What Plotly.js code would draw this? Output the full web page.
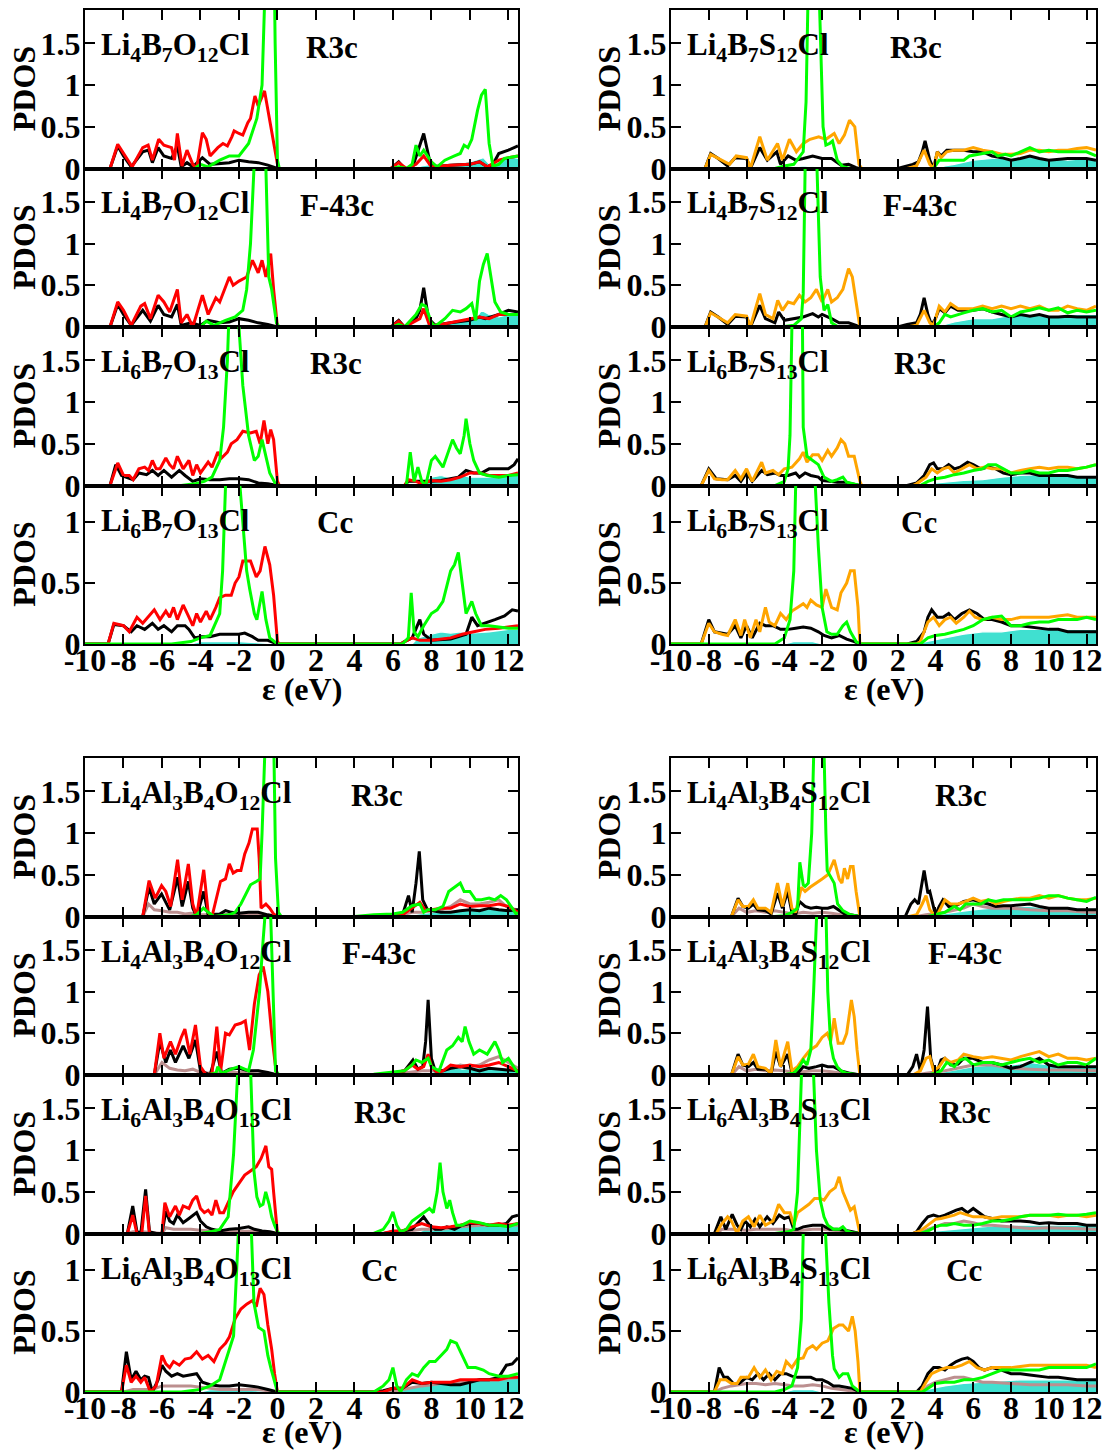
<!DOCTYPE html>
<html><head><meta charset="utf-8">
<script src="https://cdn.plot.ly/plotly-3.0.1.min.js"></script>
<style>html,body{margin:0;padding:0;background:#fff;}</style>
</head><body><div id="chart" style="width:1109px;height:1452px;"></div>
<script>
// ---------------- DATA (energy eV, PDOS) ----------------
const formulas = [
 'Li<sub>4</sub>B<sub>7</sub>O<sub>12</sub>Cl','Li<sub>4</sub>B<sub>7</sub>O<sub>12</sub>Cl','Li<sub>6</sub>B<sub>7</sub>O<sub>13</sub>Cl','Li<sub>6</sub>B<sub>7</sub>O<sub>13</sub>Cl',
 'Li<sub>4</sub>B<sub>7</sub>S<sub>12</sub>Cl','Li<sub>4</sub>B<sub>7</sub>S<sub>12</sub>Cl','Li<sub>6</sub>B<sub>7</sub>S<sub>13</sub>Cl','Li<sub>6</sub>B<sub>7</sub>S<sub>13</sub>Cl',
 'Li<sub>4</sub>Al<sub>3</sub>B<sub>4</sub>O<sub>12</sub>Cl','Li<sub>4</sub>Al<sub>3</sub>B<sub>4</sub>O<sub>12</sub>Cl','Li<sub>6</sub>Al<sub>3</sub>B<sub>4</sub>O<sub>13</sub>Cl','Li<sub>6</sub>Al<sub>3</sub>B<sub>4</sub>O<sub>13</sub>Cl',
 'Li<sub>4</sub>Al<sub>3</sub>B<sub>4</sub>S<sub>12</sub>Cl','Li<sub>4</sub>Al<sub>3</sub>B<sub>4</sub>S<sub>12</sub>Cl','Li<sub>6</sub>Al<sub>3</sub>B<sub>4</sub>S<sub>13</sub>Cl','Li<sub>6</sub>Al<sub>3</sub>B<sub>4</sub>S<sub>13</sub>Cl'];
const spaceGroups = ['R3c','F-43c','R3c','Cc','R3c','F-43c','R3c','Cc','R3c','F-43c','R3c','Cc','R3c','F-43c','R3c','Cc'];
const anions = ['O','O','O','O','S','S','S','S','O','O','O','O','S','S','S','S'];
const xTickVals = [-10,-8,-6,-4,-2,0,2,4,6,8,10,12];
const xTickText = ['-10','-8','-6','-4','-2','0','2','4','6','8','10','12'];
const xTitle = 'ε (eV)';
const yTitle = 'PDOS';

// Panel 1: Li4B7O12Cl R3c
const p1Li=[[-10,0],[-3,0],[-2,0.02],[-1,0.02],[0,0],[7,0],[7.5,0.03],[8,0.05],[9,0.06],[10,0.08],[10.7,0.13],[11.1,0.03],[11.5,0.08],[12,0.15],[12.5,0.12]];
const p1B=[[-10,0],[-8.7,0],[-8.3,0.27],[-8.0,0.15],[-7.6,0.02],[-7.0,0.2],[-6.7,0.22],[-6.5,0.07],[-6.2,0.25],[-5.9,0.15],[-5.5,0.12],[-5.2,0.27],[-5.0,0.02],[-4.7,0.07],[-4.4,0.02],[-3.9,0.13],[-3.5,0.05],[-3.0,0.06],[-2.5,0.07],[-2.0,0.1],[-1.5,0.08],[-1.0,0.07],[-0.5,0.04],[0,0],[5.9,0],[6.3,0.08],[6.6,0],[7.0,0],[7.3,0.2],[7.6,0.42],[7.9,0.1],[8.2,0.02],[9,0.04],[10,0.05],[10.5,0.08],[10.9,0.02],[11.2,0.05],[11.5,0.18],[12,0.22],[12.5,0.27]];
const p1X=[[-10,0],[-8.7,0],[-8.3,0.29],[-7.9,0.15],[-7.55,0.02],[-7.0,0.25],[-6.72,0.28],[-6.5,0.1],[-6.17,0.35],[-5.9,0.28],[-5.5,0.25],[-5.35,0.1],[-5.2,0.42],[-4.96,0.03],[-4.7,0.22],[-4.4,0.05],[-4.2,0],[-3.9,0.43],[-3.7,0.35],[-3.5,0.15],[-3.1,0.25],[-2.83,0.3],[-2.6,0.27],[-2.37,0.38],[-2.25,0.45],[-2.0,0.42],[-1.8,0.4],[-1.54,0.55],[-1.4,0.6],[-1.17,0.87],[-1.0,0.75],[-0.67,0.93],[-0.5,0.7],[-0.19,0.3],[0.04,0],[5.9,0],[6.3,0.07],[6.7,0],[7.2,0.05],[7.6,0.15],[8.0,0.02],[9,0.04],[10,0.05],[10.5,0.08],[10.9,0.02],[11.5,0.1],[12,0.13],[12.5,0.15]];
const p1Cl=[[-10,0],[-4.3,0],[-4.0,0.05],[-3.6,0.02],[-3.0,0.1],[-2.5,0.15],[-2.0,0.15],[-1.5,0.3],[-1.07,0.6],[-0.8,1.0],[-0.6,2.5],[-0.4,3.5],[-0.2,3],[-0.12,1.5],[0,0.1],[0.1,0],[6.0,0],[6.3,0.02],[6.7,0],[7.0,0.05],[7.2,0.28],[7.4,0.15],[7.6,0.22],[8.0,0.08],[8.3,0.02],[8.7,0.1],[9.2,0.15],[9.5,0.18],[9.7,0.28],[9.9,0.25],[10.1,0.35],[10.4,0.7],[10.6,0.88],[10.8,0.95],[11.0,0.3],[11.2,0.03],[11.5,0.05],[11.8,0.12],[12.5,0.15]];

// Panel 2: Li4B7O12Cl F-43c
const p2Li=[[-10,0],[-3,0],[-2,0.02],[-1,0.02],[0,0],[7,0],[7.5,0.03],[8.5,0.05],[9.5,0.08],[10.3,0.1],[10.6,0.2],[11,0.15],[11.5,0.12],[12,0.15],[12.5,0.15]];
const p2B=[[-10,0],[-8.7,0],[-8.3,0.27],[-8.0,0.15],[-7.6,0.02],[-7.0,0.2],[-6.6,0.07],[-6.2,0.26],[-5.9,0.15],[-5.5,0.12],[-5.2,0.27],[-5.0,0.02],[-4.5,0.05],[-4.0,0.02],[-3.6,0.08],[-3.0,0.05],[-2.5,0.06],[-2.0,0.1],[-1.5,0.08],[-1.0,0.05],[-0.5,0.03],[0,0],[5.9,0],[6.3,0.08],[6.6,0],[7.2,0.1],[7.4,0.2],[7.6,0.47],[7.85,0.1],[8.2,0.02],[9,0.05],[10,0.08],[10.5,0.12],[10.8,0.1],[11.5,0.15],[12,0.2],[12.5,0.18]];
const p2X=[[-10,0],[-8.7,0],[-8.3,0.3],[-8.0,0.2],[-7.6,0.02],[-7.1,0.25],[-6.9,0.28],[-6.6,0.1],[-6.2,0.38],[-5.9,0.3],[-5.6,0.18],[-5.2,0.45],[-5.0,0.05],[-4.7,0.15],[-4.4,0],[-3.9,0.38],[-3.6,0.15],[-3.2,0.35],[-3.0,0.3],[-2.5,0.6],[-2.3,0.5],[-2.0,0.55],[-1.6,0.6],[-1.3,0.8],[-1.0,0.65],[-0.8,0.8],[-0.6,0.6],[-0.35,0.88],[-0.2,0.45],[0,0],[5.9,0],[6.3,0.07],[6.6,0],[7.4,0.1],[7.6,0.22],[7.9,0.02],[8.3,0.02],[9,0.05],[10,0.1],[10.5,0.12],[11,0.1],[11.5,0.15],[12.5,0.15]];
const p2Cl=[[-10,0],[-4.0,0],[-3.7,0.07],[-3.3,0.02],[-2.7,0.08],[-2.2,0.12],[-1.8,0.2],[-1.6,0.45],[-1.4,1.0],[-1.2,2.2],[-1.0,3],[-0.8,3],[-0.6,1.9],[-0.45,0.6],[-0.3,0.45],[-0.05,0.05],[0.1,0],[6.0,0],[6.3,0.03],[6.6,0],[7.2,0.15],[7.5,0.27],[7.7,0.25],[8.0,0.05],[8.2,0.01],[8.7,0.1],[9.1,0.2],[9.5,0.18],[9.8,0.22],[10.1,0.28],[10.3,0.08],[10.5,0.55],[10.7,0.75],[10.9,0.88],[11.1,0.6],[11.3,0.3],[11.6,0.18],[12,0.15],[12.5,0.15]];

// Panel 3: Li6B7O13Cl R3c
const p3Li=[[-10,0],[-3,0],[-2,0.02],[-1,0.02],[0,0],[7,0],[7.5,0.05],[8.0,0.1],[8.5,0.12],[9,0.09],[9.5,0.13],[10,0.1],[11,0.1],[12,0.12],[12.5,0.12]];
const p3B=[[-10,0],[-8.7,0],[-8.4,0.25],[-8.1,0.12],[-7.5,0.07],[-7.2,0.15],[-6.8,0.13],[-6.5,0.18],[-6.2,0.12],[-5.9,0.18],[-5.5,0.1],[-5.1,0.18],[-4.8,0.12],[-4.4,0.05],[-4.0,0.08],[-3.5,0.07],[-3.0,0.07],[-2.5,0.08],[-2.0,0.08],[-1.5,0.07],[-1.0,0.03],[-0.5,0.02],[0,0],[6.6,0],[6.8,0.05],[7.5,0.05],[8.0,0.05],[8.5,0.06],[9.0,0.08],[9.4,0.1],[9.8,0.18],[10.2,0.15],[10.6,0.15],[11,0.2],[11.5,0.2],[12,0.2],[12.3,0.25],[12.5,0.32]];
const p3X=[[-10,0],[-8.7,0],[-8.3,0.27],[-8.0,0.12],[-7.7,0.12],[-7.5,0.07],[-7.2,0.2],[-6.9,0.22],[-6.7,0.18],[-6.5,0.3],[-6.3,0.2],[-6.1,0.2],[-5.8,0.33],[-5.6,0.25],[-5.4,0.2],[-5.2,0.35],[-4.9,0.2],[-4.6,0.3],[-4.4,0.12],[-4.2,0.25],[-4.0,0.15],[-3.6,0.28],[-3.4,0.22],[-3.1,0.4],[-2.9,0.33],[-2.6,0.4],[-2.4,0.5],[-2.1,0.55],[-1.8,0.65],[-1.4,0.63],[-1.1,0.65],[-0.9,0.5],[-0.7,0.78],[-0.5,0.5],[-0.35,0.67],[-0.2,0.55],[0,0.05],[0.1,0],[6.6,0],[6.8,0.07],[7.2,0.05],[7.5,0.02],[8.0,0.06],[8.5,0.05],[9.0,0.07],[9.5,0.1],[10,0.15],[10.5,0.15],[11,0.12],[12,0.12],[12.5,0.15]];
const p3Cl=[[-10,0],[-5.0,0],[-4.3,0.02],[-3.8,0.05],[-3.4,0.1],[-3.0,0.3],[-2.8,0.7],[-2.6,1.5],[-2.45,2.5],[-2.2,2.6],[-2.0,1.9],[-1.8,1.2],[-1.5,0.6],[-1.2,0.3],[-1.0,0.35],[-0.8,0.55],[-0.6,0.35],[-0.4,0.15],[-0.1,0.02],[0.1,0],[6.7,0],[6.9,0.4],[7.1,0.05],[7.3,0.22],[7.5,0.05],[7.7,0],[8.0,0.3],[8.2,0.35],[8.6,0.22],[8.8,0.35],[9.1,0.55],[9.3,0.45],[9.5,0.38],[9.7,0.6],[9.8,0.8],[10.0,0.5],[10.2,0.3],[10.5,0.15],[10.9,0.12],[11.5,0.1],[12,0.12],[12.5,0.13]];

// Panel 4: Li6B7O13Cl Cc
const p4Li=[[-10,0],[-4.5,0],[-4,0.02],[-2,0.02],[-1,0.01],[0,0],[7,0],[7.3,0.05],[8.0,0.08],[8.5,0.1],[9,0.09],[9.5,0.1],[10,0.09],[11,0.1],[12,0.12],[12.5,0.12]];
const p4B=[[-10,0],[-8.8,0],[-8.5,0.16],[-8.0,0.15],[-7.6,0.1],[-7.3,0.15],[-6.9,0.12],[-6.5,0.17],[-6.2,0.12],[-5.9,0.15],[-5.5,0.1],[-5.2,0.15],[-4.8,0.15],[-4.6,0.12],[-4.3,0.05],[-4.0,0.06],[-3.5,0.06],[-3.0,0.08],[-2.5,0.08],[-2.0,0.08],[-1.7,0.09],[-1.3,0.06],[-1.0,0.03],[-0.5,0.03],[0,0],[6.4,0],[6.6,0.02],[7.0,0.05],[7.4,0.2],[7.6,0.08],[8.0,0.03],[9,0.04],[9.8,0.08],[10.1,0.22],[10.4,0.15],[10.8,0.17],[11.3,0.2],[11.8,0.23],[12.2,0.28],[12.5,0.27]];
const p4X=[[-10,0],[-8.8,0],[-8.5,0.17],[-8.0,0.15],[-7.7,0.1],[-7.3,0.22],[-7.0,0.17],[-6.4,0.28],[-6.1,0.2],[-5.8,0.27],[-5.6,0.22],[-5.4,0.3],[-5.2,0.2],[-4.9,0.32],[-4.6,0.22],[-4.4,0.15],[-4.2,0.25],[-4.0,0.18],[-3.7,0.27],[-3.5,0.2],[-3.2,0.3],[-3.0,0.38],[-2.7,0.4],[-2.4,0.4],[-2.2,0.5],[-2.0,0.55],[-1.8,0.68],[-1.4,0.68],[-1.1,0.55],[-0.9,0.6],[-0.65,0.8],[-0.4,0.65],[-0.2,0.4],[0,0.02],[0.1,0],[6.4,0],[6.6,0.02],[7.0,0.05],[7.4,0.03],[8.0,0.03],[9,0.05],[9.6,0.08],[10.2,0.1],[10.8,0.12],[11.5,0.13],[12.5,0.15]];
const p4Cl=[[-10,0],[-5.5,0],[-4.5,0.02],[-4.0,0.05],[-3.5,0.07],[-3.0,0.25],[-2.85,0.6],[-2.7,1.3],[-2.5,2.2],[-2.15,2.2],[-2.0,1.4],[-1.8,1.0],[-1.6,0.6],[-1.44,0.45],[-1.2,0.25],[-1.07,0.2],[-0.8,0.43],[-0.6,0.2],[-0.4,0.05],[0,0],[6.5,0],[6.8,0.05],[6.95,0.42],[7.1,0.1],[7.3,0.06],[7.6,0.15],[8.0,0.25],[8.3,0.28],[8.6,0.35],[9.0,0.6],[9.2,0.65],[9.4,0.75],[9.6,0.5],[9.8,0.25],[10.1,0.35],[10.3,0.25],[10.6,0.15],[11,0.15],[11.5,0.14],[12,0.13],[12.5,0.13]];

// Panel 5: Li4B7S12Cl R3c
const p5Li=[[-10,0],[-4,0],[-3.8,0.01],[-3.0,0.03],[-2.5,0.02],[-2,0],[4.0,0],[4.5,0.03],[5,0.05],[6,0.1],[7,0.12],[7.5,0.12],[8,0.12],[9,0.15],[9.5,0.12],[10,0.12],[11,0.1],[12,0.12],[12.5,0.1]];
const p5B=[[-10,0],[-8.2,0],[-7.9,0.18],[-7.5,0.12],[-7.0,0.03],[-6.6,0.13],[-6.0,0.12],[-5.8,0],[-5.3,0.25],[-4.9,0.1],[-4.4,0.2],[-4.2,0.05],[-3.8,0.15],[-3.4,0.1],[-3.0,0.12],[-2.5,0.15],[-2.0,0.12],[-1.5,0.12],[-1.0,0.04],[-0.6,0.05],[-0.2,0.01],[0,0],[2.0,0],[2.3,0.02],[2.8,0.05],[3.1,0.08],[3.3,0.2],[3.45,0.33],[3.7,0.1],[3.9,0],[4.1,0.2],[4.3,0.15],[4.6,0.22],[5.0,0.22],[5.5,0.22],[6.0,0.2],[6.5,0.2],[7.0,0.15],[7.5,0.13],[8.0,0.1],[8.5,0.12],[9.0,0.15],[9.5,0.12],[10,0.1],[11,0.12],[12,0.12],[12.5,0.1]];
const p5X=[[-10,0],[-8.2,0],[-7.9,0.17],[-7.5,0.12],[-6.9,0.05],[-6.55,0.15],[-6.0,0.13],[-5.8,0],[-5.3,0.38],[-4.9,0.1],[-4.36,0.3],[-4.1,0.1],[-3.73,0.35],[-3.36,0.2],[-3.0,0.3],[-2.64,0.35],[-2.18,0.38],[-1.8,0.35],[-1.36,0.42],[-1.1,0.3],[-0.82,0.4],[-0.55,0.58],[-0.27,0.5],[-0.05,0.05],[0.1,0],[2.5,0],[3.0,0.03],[3.4,0.22],[3.7,0.05],[3.9,0],[4.1,0.2],[4.3,0.13],[4.6,0.2],[5.0,0.22],[5.5,0.22],[6.0,0.25],[6.5,0.22],[7.0,0.2],[7.5,0.17],[8.0,0.17],[8.5,0.18],[9.0,0.22],[9.5,0.22],[10,0.2],[10.5,0.22],[11,0.22],[11.5,0.24],[12,0.25],[12.5,0.22]];
const p5Cl=[[-10,0],[-4.5,0],[-4.0,0.03],[-3.5,0.05],[-3.0,0.2],[-2.85,0.8],[-2.75,2.0],[-2.5,3],[-2.25,2.5],[-2.13,1.9],[-1.95,0.5],[-1.8,0.28],[-1.6,0.3],[-1.45,0.33],[-1.2,0.1],[-0.9,0.02],[-0.5,0],[3.9,0],[4.2,0.1],[4.5,0.1],[5,0.1],[5.5,0.1],[5.8,0.15],[6.2,0.17],[6.5,0.18],[7.0,0.2],[7.3,0.15],[7.7,0.17],[8.0,0.15],[8.5,0.2],[9.0,0.25],[9.5,0.2],[10,0.22],[10.5,0.2],[11,0.2],[11.5,0.2],[12,0.2],[12.5,0.15]];

// Panel 6: Li4B7S12Cl F-43c
const p6Li=[[-10,0],[-4,0],[-3.5,0.02],[-2.5,0.02],[-2,0],[4,0],[4.5,0.03],[5,0.06],[6,0.1],[7,0.1],[8,0.14],[9,0.15],[10,0.12],[11,0.15],[12,0.15],[12.5,0.15]];
const p6B=[[-10,0],[-8.2,0],[-7.9,0.18],[-7.5,0.12],[-7.0,0.03],[-6.6,0.13],[-6.0,0.12],[-5.8,0],[-5.3,0.26],[-5.0,0.1],[-4.5,0.05],[-4.3,0.18],[-4.0,0.08],[-3.5,0.1],[-3.0,0.12],[-2.5,0.16],[-2.2,0.12],[-2.0,0.15],[-1.5,0.1],[-1.1,0.05],[-0.6,0.05],[-0.2,0.02],[0,0],[2.0,0],[2.5,0.03],[3.0,0.05],[3.2,0.15],[3.4,0.35],[3.6,0.15],[3.8,0.02],[4.0,0.1],[4.2,0.22],[4.5,0.17],[4.8,0.25],[5.2,0.2],[5.5,0.2],[6,0.2],[6.5,0.22],[7,0.18],[7.5,0.15],[8,0.12],[8.5,0.15],[9,0.13],[9.5,0.15],[10,0.12],[10.5,0.12],[11,0.13],[11.5,0.12],[12,0.12],[12.5,0.12]];
const p6X=[[-10,0],[-8.2,0],[-7.9,0.17],[-7.5,0.12],[-7.0,0.05],[-6.6,0.15],[-6.0,0.13],[-5.8,0],[-5.3,0.4],[-5.0,0.15],[-4.6,0.1],[-4.35,0.32],[-4.1,0.2],[-3.8,0.3],[-3.5,0.28],[-3.2,0.38],[-2.9,0.3],[-2.6,0.35],[-2.3,0.45],[-2.0,0.3],[-1.7,0.45],[-1.5,0.3],[-1.2,0.35],[-0.9,0.45],[-0.6,0.7],[-0.4,0.6],[-0.2,0.3],[0,0],[2.5,0],[3.0,0.02],[3.4,0.2],[3.7,0.05],[3.9,0.02],[4.2,0.25],[4.5,0.18],[4.8,0.28],[5.2,0.22],[5.5,0.22],[6,0.22],[6.5,0.25],[7,0.22],[7.5,0.25],[8,0.22],[8.5,0.25],[9,0.22],[9.5,0.25],[10,0.2],[10.5,0.2],[11,0.25],[11.5,0.22],[12,0.2],[12.5,0.25]];
const p6Cl=[[-10,0],[-4.2,0],[-3.5,0.02],[-3.1,0.1],[-3.0,0.4],[-2.9,1.9],[-2.7,3],[-2.4,3],[-2.27,1.9],[-2.1,0.6],[-1.9,0.2],[-1.7,0.27],[-1.5,0.05],[-1.2,0.01],[-0.5,0],[3.9,0],[4.2,0.05],[4.5,0.15],[4.8,0.12],[5.2,0.15],[5.5,0.17],[6,0.2],[6.5,0.22],[7,0.18],[7.5,0.2],[8,0.12],[8.5,0.18],[9,0.2],[9.5,0.23],[10,0.2],[10.5,0.23],[11,0.17],[11.5,0.2],[12,0.18],[12.5,0.2]];

// Panel 7: Li6B7S13Cl R3c
const p7Li=[[-10,0],[-4,0],[-3.5,0.02],[-2.5,0.02],[-2,0],[3,0],[3.5,0.02],[4.5,0.04],[5.5,0.06],[6.5,0.07],[7.5,0.1],[8.5,0.12],[9.5,0.13],[10.5,0.12],[11.5,0.12],[12.5,0.12]];
const p7B=[[-10,0],[-8.4,0],[-8.0,0.2],[-7.6,0.08],[-7.0,0.07],[-6.6,0.12],[-6.3,0.05],[-6.0,0.15],[-5.7,0.05],[-5.2,0.18],[-4.9,0.13],[-4.5,0.15],[-4.2,0.12],[-3.8,0.12],[-3.4,0.15],[-3.2,0.1],[-2.9,0.15],[-2.6,0.12],[-2.2,0.1],[-2.0,0.06],[-1.6,0.05],[-1.2,0.04],[-0.8,0.04],[-0.4,0.02],[0,0],[2.5,0],[3.0,0.03],[3.4,0.12],[3.7,0.25],[3.9,0.27],[4.1,0.2],[4.4,0.2],[4.7,0.25],[5.0,0.2],[5.3,0.22],[5.7,0.28],[6.0,0.25],[6.4,0.2],[6.8,0.22],[7.2,0.2],[7.6,0.15],[8.0,0.13],[8.5,0.15],[9,0.15],[9.5,0.12],[10,0.12],[10.5,0.12],[11,0.12],[11.5,0.1],[12,0.1],[12.5,0.1]];
const p7X=[[-10,0],[-8.4,0],[-8.0,0.18],[-7.7,0.08],[-7.3,0.07],[-7.0,0.07],[-6.6,0.18],[-6.3,0.08],[-6.0,0.2],[-5.7,0.05],[-5.2,0.28],[-5.0,0.15],[-4.6,0.18],[-4.3,0.13],[-4.0,0.2],[-3.6,0.22],[-3.2,0.32],[-3.0,0.4],[-2.8,0.28],[-2.5,0.37],[-2.2,0.37],[-2.0,0.3],[-1.7,0.42],[-1.5,0.35],[-1.2,0.45],[-1.0,0.55],[-0.8,0.5],[-0.6,0.35],[-0.3,0.35],[0,0.05],[0.1,0],[2.8,0],[3.0,0.02],[3.5,0.1],[3.8,0.2],[4.1,0.15],[4.4,0.2],[4.7,0.22],[5.0,0.15],[5.4,0.2],[5.8,0.25],[6.2,0.2],[6.6,0.22],[7,0.2],[7.5,0.2],[8,0.15],[8.5,0.18],[9,0.2],[9.5,0.22],[10,0.2],[10.5,0.22],[11,0.22],[11.5,0.2],[12,0.22],[12.5,0.25]];
const p7Cl=[[-10,0],[-4.5,0],[-4.0,0.05],[-3.8,0.2],[-3.7,0.6],[-3.6,1.9],[-3.4,3],[-3.15,3],[-3.04,1.9],[-3.0,0.7],[-2.8,0.35],[-2.5,0.3],[-2.2,0.25],[-1.9,0.1],[-1.5,0.05],[-1.2,0.07],[-0.9,0.1],[-0.7,0.04],[-0.4,0.02],[0,0],[3.2,0],[3.6,0.05],[4.0,0.08],[4.5,0.1],[5,0.13],[5.5,0.15],[6,0.18],[6.5,0.2],[6.8,0.25],[7.2,0.25],[7.6,0.2],[8,0.15],[8.5,0.15],[9,0.18],[9.5,0.15],[10,0.15],[10.5,0.18],[11,0.18],[11.5,0.2],[12,0.22],[12.5,0.25]];

// Panel 8: Li6B7S13Cl Cc
const p8Li=[[-10,0],[-4,0],[-3.5,0.02],[-2.5,0.02],[-2,0],[3,0],[3.5,0.02],[4.5,0.05],[5.5,0.08],[6.5,0.1],[7.5,0.1],[8.5,0.12],[9.5,0.12],[10.5,0.12],[11.5,0.12],[12.5,0.12]];
const p8B=[[-10,0],[-8.4,0],[-8.0,0.2],[-7.7,0.1],[-7.0,0.08],[-6.6,0.15],[-6.3,0.05],[-6.0,0.15],[-5.7,0.05],[-5.3,0.17],[-5.0,0.15],[-4.6,0.15],[-4.2,0.12],[-3.8,0.12],[-3.4,0.13],[-3.0,0.14],[-2.6,0.13],[-2.2,0.1],[-1.9,0.07],[-1.5,0.05],[-1.1,0.07],[-0.7,0.04],[-0.3,0.02],[0,0],[2.5,0],[3.0,0.02],[3.4,0.1],[3.6,0.22],[3.8,0.28],[4.1,0.22],[4.4,0.22],[4.7,0.25],[5.0,0.2],[5.4,0.25],[5.8,0.28],[6.2,0.25],[6.6,0.2],[7.0,0.2],[7.5,0.18],[8,0.15],[8.5,0.15],[9,0.14],[9.5,0.13],[10,0.12],[10.5,0.12],[11,0.1],[11.5,0.1],[12,0.1],[12.5,0.1]];
const p8X=[[-10,0],[-8.4,0],[-8.0,0.17],[-7.7,0.1],[-7.3,0.08],[-7.0,0.07],[-6.6,0.2],[-6.3,0.07],[-6.1,0.2],[-5.8,0.05],[-5.5,0.2],[-5.3,0.1],[-5.0,0.3],[-4.8,0.18],[-4.5,0.15],[-4.2,0.25],[-3.9,0.2],[-3.6,0.27],[-3.3,0.3],[-3.0,0.33],[-2.8,0.3],[-2.6,0.36],[-2.3,0.32],[-2.0,0.3],[-1.8,0.45],[-1.5,0.3],[-1.2,0.28],[-1.0,0.42],[-0.7,0.5],[-0.5,0.6],[-0.3,0.6],[-0.1,0.3],[0,0],[3.0,0],[3.2,0.02],[3.6,0.18],[3.9,0.22],[4.2,0.15],[4.5,0.2],[4.8,0.22],[5.1,0.17],[5.5,0.22],[5.8,0.27],[6.1,0.22],[6.5,0.2],[7,0.22],[7.5,0.2],[8,0.2],[8.5,0.22],[9,0.22],[9.5,0.22],[10,0.22],[10.5,0.23],[11,0.24],[11.5,0.22],[12,0.22],[12.5,0.22]];
const p8Cl=[[-10,0],[-4.5,0],[-4.0,0.05],[-3.7,0.2],[-3.5,0.6],[-3.4,1.3],[-3.2,2.2],[-2.5,2.2],[-2.36,1.3],[-2.2,0.8],[-2.0,0.3],[-1.75,0.1],[-1.5,0.08],[-1.2,0.08],[-0.9,0.15],[-0.7,0.18],[-0.5,0.1],[-0.2,0.02],[0,0],[3.2,0],[3.6,0.05],[4.0,0.07],[4.5,0.08],[5,0.1],[5.5,0.12],[6,0.15],[6.5,0.2],[7,0.22],[7.5,0.23],[8,0.15],[8.5,0.15],[9,0.17],[9.5,0.18],[10,0.18],[10.5,0.2],[11,0.2],[11.5,0.2],[12,0.22],[12.5,0.2]];

// Panel 9: Li4Al3B4O12Cl R3c
const p9Li=[[-10,0],[-3,0],[-2,0.02],[-1,0.02],[0,0],[6.5,0],[7,0.02],[8,0.05],[9,0.07],[10,0.1],[11,0.1],[12,0.08],[12.5,0.05]];
const p9Al=[[-10,0],[-7.0,0],[-6.7,0.15],[-6.4,0.08],[-6.0,0.07],[-5.6,0.05],[-5.2,0.05],[-4.8,0.03],[-4.5,0.04],[-4.0,0.02],[-3.5,0.02],[-3.0,0.02],[-2.0,0.03],[-1.5,0.04],[-1.0,0.03],[-0.5,0.01],[0,0],[6.0,0],[6.5,0.02],[7.0,0.05],[7.5,0.05],[8,0.07],[8.5,0.08],[9,0.12],[9.5,0.2],[10,0.15],[10.5,0.15],[11,0.17],[11.5,0.2],[12,0.1],[12.5,0.08]];
const p9B=[[-10,0],[-7.0,0],[-6.67,0.35],[-6.4,0.15],[-6.02,0.27],[-5.6,0.08],[-5.19,0.47],[-4.95,0.12],[-4.63,0.42],[-4.4,0.1],[-4.2,0],[-3.83,0.3],[-3.6,0.02],[-3.0,0.03],[-2.7,0.07],[-2.4,0.05],[-2.0,0.04],[-1.5,0.05],[-1.0,0.05],[-0.5,0.02],[0,0],[6.0,0],[6.5,0.02],[6.81,0.25],[7.0,0.05],[7.2,0.4],[7.37,0.78],[7.55,0.2],[7.8,0.08],[8.5,0.05],[9,0.05],[9.5,0.07],[10,0.08],[10.5,0.07],[11,0.1],[11.5,0.08],[12,0.07],[12.5,0.08]];
const p9X=[[-10,0],[-7.0,0],[-6.67,0.43],[-6.35,0.22],[-6.02,0.37],[-5.8,0.3],[-5.55,0.12],[-5.19,0.68],[-4.95,0.2],[-4.63,0.63],[-4.4,0.15],[-4.2,0],[-3.83,0.56],[-3.6,0.05],[-3.4,0],[-3.2,0.2],[-2.96,0.42],[-2.7,0.45],[-2.5,0.63],[-2.3,0.52],[-2.1,0.55],[-1.9,0.55],[-1.7,0.75],[-1.48,0.88],[-1.3,1.05],[-1.05,1.05],[-0.95,0.7],[-0.85,0.1],[-0.6,0.15],[-0.4,0.1],[-0.2,0.03],[0,0],[6.0,0],[6.5,0.02],[7.0,0.1],[7.4,0.17],[7.7,0.07],[8.0,0.08],[8.5,0.1],[9,0.1],[9.5,0.15],[10,0.12],[10.5,0.13],[11,0.13],[11.5,0.15],[12,0.12],[12.5,0.05]];
const p9Cl=[[-10,0],[-4.5,0],[-4.2,0.02],[-3.85,0.1],[-3.6,0.05],[-3.3,0],[-2.5,0.02],[-2.2,0.05],[-1.9,0.15],[-1.6,0.28],[-1.4,0.38],[-1.1,0.42],[-0.9,0.45],[-0.8,1.0],[-0.7,1.9],[-0.5,3],[-0.25,3],[-0.18,1.9],[-0.1,0.7],[0.05,0.05],[0.2,0],[4.0,0],[5.0,0.02],[6.0,0.03],[6.5,0.05],[7.0,0.13],[7.4,0.15],[7.6,0.05],[7.8,0.08],[8.2,0.08],[8.6,0.12],[8.9,0.3],[9.2,0.35],[9.5,0.4],[9.7,0.3],[10.0,0.3],[10.3,0.2],[10.6,0.2],[11.0,0.22],[11.3,0.2],[11.6,0.25],[11.9,0.2],[12.2,0.1],[12.4,0.03],[12.5,0.05]];

// Panel 10: Li4Al3B4O12Cl F-43c
const p10Li=[[-10,0],[-3,0],[-2,0.02],[-1,0.02],[0,0],[7,0],[7.5,0.02],[8.5,0.05],[9.2,0.1],[9.6,0.07],[10,0.08],[11,0.1],[12,0.08],[12.5,0.05]];
const p10Al=[[-10,0],[-6.4,0],[-6.0,0.15],[-5.6,0.08],[-5.2,0.06],[-4.8,0.05],[-4.4,0.07],[-4.0,0.03],[-3.5,0.02],[-3.0,0.03],[-2.0,0.03],[-1.5,0.04],[-1.0,0.05],[-0.5,0.02],[0,0],[6.0,0],[6.5,0.02],[7.5,0.05],[8.5,0.05],[9.0,0.08],[9.5,0.12],[10,0.1],[10.5,0.12],[11,0.18],[11.5,0.22],[12,0.15],[12.5,0.08]];
const p10B=[[-10,0],[-6.4,0],[-6.11,0.4],[-5.8,0.15],[-5.56,0.3],[-5.3,0.15],[-4.9,0.35],[-4.6,0.2],[-4.26,0.42],[-4.0,0.05],[-3.5,0],[-3.15,0.28],[-2.9,0.02],[-2.5,0.07],[-2.0,0.08],[-1.5,0.05],[-1.0,0.05],[-0.5,0.03],[0,0],[5.0,0],[6.0,0.02],[6.6,0.05],[7.04,0.18],[7.3,0.07],[7.55,0.1],[7.7,0.4],[7.83,0.9],[8.0,0.2],[8.2,0.05],[8.6,0.05],[9,0.08],[9.5,0.1],[10,0.08],[10.5,0.05],[11,0.08],[11.5,0.07],[12,0.06],[12.5,0.05]];
const p10X=[[-10,0],[-6.4,0],[-6.11,0.5],[-5.9,0.2],[-5.56,0.4],[-5.3,0.25],[-5.0,0.45],[-4.81,0.55],[-4.55,0.25],[-4.26,0.6],[-4.0,0.1],[-3.7,0],[-3.4,0.02],[-3.15,0.58],[-2.95,0.05],[-2.7,0.5],[-2.5,0.48],[-2.2,0.6],[-1.9,0.62],[-1.67,0.65],[-1.45,0.3],[-1.2,0.85],[-0.95,1.2],[-0.74,1.3],[-0.5,1.0],[-0.3,0.5],[-0.1,0.1],[0,0],[5.5,0],[6.0,0.02],[6.6,0.05],[7.0,0.12],[7.3,0.07],[7.6,0.1],[7.83,0.25],[8.0,0.1],[8.3,0.03],[8.6,0.05],[9.0,0.12],[9.5,0.1],[10,0.12],[10.5,0.1],[11,0.12],[11.5,0.15],[12,0.1],[12.5,0.05]];
const p10Cl=[[-10,0],[-3.7,0],[-3.2,0.02],[-3.1,0.1],[-2.9,0.02],[-2.4,0.07],[-2.0,0.1],[-1.5,0.05],[-1.25,0.3],[-0.93,1.0],[-0.75,1.6],[-0.6,2.5],[-0.45,2.5],[-0.35,1.9],[-0.1,0.05],[0.1,0],[4.0,0],[5.0,0.01],[6.0,0.03],[6.6,0.05],[7.0,0.12],[7.2,0.18],[7.5,0.15],[7.83,0.2],[8.0,0.1],[8.4,0.05],[8.8,0.3],[9.1,0.35],[9.4,0.45],[9.6,0.4],[9.75,0.58],[9.95,0.4],[10.2,0.25],[10.5,0.3],[10.9,0.25],[11.3,0.4],[11.5,0.3],[11.7,0.15],[12.0,0.2],[12.3,0.1],[12.5,0.02]];

// Panel 11: Li6Al3B4O13Cl R3c
const p11Li=[[-10,0],[-3,0],[-2,0.02],[-1,0.02],[0,0],[7,0],[7.5,0.03],[8,0.1],[8.5,0.05],[9.5,0.08],[10.5,0.1],[11.5,0.1],[12.5,0.12]];
const p11Al=[[-10,0],[-7.8,0],[-7.5,0.02],[-7.0,0.02],[-6.0,0],[-5.8,0.07],[-5.4,0.05],[-5.0,0.05],[-4.5,0.05],[-4.0,0.04],[-3.5,0.03],[-2.5,0.02],[-1.5,0.03],[-1.0,0.03],[0,0],[6.0,0],[6.5,0.02],[7.5,0.05],[8.5,0.05],[9.5,0.08],[10.5,0.1],[11.5,0.1],[12.5,0.1]];
const p11B=[[-10,0],[-7.8,0],[-7.52,0.33],[-7.3,0.02],[-7.1,0],[-6.85,0.53],[-6.65,0.02],[-6.3,0],[-6.0,0],[-5.8,0.27],[-5.6,0.15],[-5.4,0.12],[-5.2,0.22],[-4.9,0.13],[-4.6,0.18],[-4.2,0.25],[-4.0,0.15],[-3.7,0.08],[-3.4,0.05],[-3.0,0.03],[-2.5,0.05],[-2.0,0.06],[-1.5,0.08],[-1.2,0.05],[-0.8,0.03],[-0.4,0.02],[0,0],[5.5,0],[6.0,0.02],[6.5,0.03],[7.0,0.05],[7.3,0.12],[7.6,0.2],[7.9,0.1],[8.2,0.05],[8.5,0.05],[8.8,0.08],[9.2,0.05],[9.6,0.1],[10,0.12],[10.5,0.12],[11,0.1],[11.5,0.1],[11.9,0.12],[12.2,0.2],[12.5,0.22]];
const p11X=[[-10,0],[-7.8,0],[-7.52,0.22],[-7.3,0],[-7.05,0],[-6.85,0.45],[-6.65,0],[-6.0,0],[-5.85,0.37],[-5.6,0.2],[-5.3,0.33],[-5.1,0.22],[-4.9,0.33],[-4.6,0.3],[-4.4,0.4],[-4.2,0.45],[-4.0,0.3],[-3.8,0.25],[-3.6,0.28],[-3.4,0.22],[-3.2,0.4],[-3.0,0.25],[-2.8,0.25],[-2.6,0.35],[-2.3,0.5],[-2.0,0.6],[-1.7,0.7],[-1.4,0.75],[-1.1,0.8],[-0.85,0.9],[-0.6,1.05],[-0.45,0.8],[-0.3,0.77],[-0.2,0.5],[-0.05,0.1],[0,0],[5.5,0],[6.0,0.03],[6.5,0.03],[7.0,0.08],[7.5,0.12],[8.0,0.08],[8.5,0.07],[9.0,0.08],[9.5,0.1],[10,0.13],[10.5,0.12],[11,0.1],[11.5,0.12],[12,0.1],[12.5,0.12]];
const p11Cl=[[-10,0],[-4.0,0],[-3.5,0.02],[-3.0,0.05],[-2.56,0.2],[-2.28,0.95],[-2.05,2.0],[-1.8,2.5],[-1.4,2.0],[-1.3,1.2],[-1.22,0.75],[-1.07,0.44],[-0.9,0.33],[-0.75,0.35],[-0.61,0.5],[-0.43,0.35],[-0.3,0.2],[-0.15,0.1],[0,0.02],[0.1,0],[5.0,0],[5.5,0.05],[5.8,0.15],[6.0,0.26],[6.2,0.1],[6.4,0.02],[6.7,0.05],[7.0,0.15],[7.3,0.2],[7.6,0.25],[7.9,0.3],[8.1,0.25],[8.3,0.5],[8.45,0.85],[8.6,0.5],[8.8,0.3],[8.95,0.4],[9.1,0.25],[9.3,0.1],[9.6,0.1],[10,0.15],[10.5,0.13],[11,0.1],[11.5,0.1],[12,0.08],[12.5,0.12]];

// Panel 12: Li6Al3B4O13Cl Cc
const p12Li=[[-10,0],[-4,0],[-3.5,0.02],[-2,0.02],[-1,0.01],[0,0],[6,0],[6.5,0.02],[7.5,0.05],[8.5,0.07],[9.5,0.08],[10.5,0.1],[11.5,0.1],[12.5,0.12]];
const p12Al=[[-10,0],[-8.0,0],[-7.5,0.02],[-6.5,0.02],[-6.0,0.05],[-5.5,0.05],[-5.0,0.05],[-4.5,0.05],[-4.0,0.04],[-3.5,0.03],[-3.0,0.02],[-2.0,0.02],[-1.0,0.02],[0,0],[6.0,0],[6.5,0.02],[7.5,0.05],[8.5,0.07],[9.5,0.08],[10.5,0.1],[11.5,0.1],[12.5,0.12]];
const p12B=[[-10,0],[-8.1,0],[-7.85,0.33],[-7.6,0.1],[-7.35,0.17],[-7.1,0.1],[-6.9,0.13],[-6.7,0.12],[-6.5,0],[-6.2,0.1],[-6.0,0.22],[-5.8,0.17],[-5.5,0.13],[-5.2,0.15],[-4.9,0.13],[-4.5,0.14],[-4.2,0.15],[-3.9,0.08],[-3.5,0.06],[-3.0,0.05],[-2.5,0.05],[-2.0,0.06],[-1.5,0.05],[-1.0,0.04],[-0.5,0.02],[0,0],[5.0,0],[5.5,0.01],[6.0,0.03],[6.5,0.03],[7.0,0.08],[7.5,0.07],[8.0,0.08],[8.5,0.07],[9.0,0.06],[9.5,0.06],[10,0.08],[10.5,0.1],[11,0.1],[11.5,0.12],[11.9,0.22],[12.2,0.23],[12.5,0.28]];
const p12X=[[-10,0],[-8.1,0],[-7.85,0.22],[-7.6,0.08],[-7.35,0.13],[-7.1,0.08],[-6.9,0.12],[-6.6,0],[-6.3,0.05],[-6.0,0.3],[-5.8,0.23],[-5.6,0.2],[-5.4,0.25],[-5.1,0.22],[-4.8,0.27],[-4.5,0.28],[-4.2,0.33],[-3.9,0.27],[-3.6,0.3],[-3.3,0.25],[-3.0,0.35],[-2.7,0.4],[-2.5,0.45],[-2.2,0.6],[-1.9,0.68],[-1.6,0.72],[-1.3,0.75],[-1.1,0.7],[-0.9,0.85],[-0.7,0.8],[-0.5,0.55],[-0.3,0.35],[-0.15,0.15],[0,0],[5.5,0],[6.0,0.03],[6.5,0.03],[7.0,0.1],[7.5,0.07],[8.0,0.08],[8.5,0.08],[9.0,0.08],[9.5,0.1],[10,0.1],[10.5,0.1],[11,0.1],[11.5,0.1],[12,0.12],[12.5,0.12]];
const p12Cl=[[-10,0],[-5.0,0],[-4.0,0.02],[-3.5,0.05],[-3.0,0.1],[-2.6,0.3],[-2.28,0.46],[-2.09,1.1],[-1.95,1.6],[-1.6,1.8],[-1.35,1.3],[-1.22,0.73],[-0.98,0.53],[-0.7,0.5],[-0.5,0.3],[-0.33,0.19],[-0.15,0.08],[0,0],[5.0,0],[5.5,0.05],[5.8,0.1],[6.0,0.2],[6.2,0.05],[6.4,0],[6.7,0.1],[7.0,0.15],[7.3,0.13],[7.6,0.2],[7.9,0.25],[8.2,0.25],[8.5,0.3],[8.8,0.35],[9.0,0.42],[9.3,0.4],[9.6,0.3],[9.9,0.2],[10.3,0.2],[10.7,0.18],[11.0,0.15],[11.5,0.13],[12,0.13],[12.5,0.15]];

// Panel 13: Li4Al3B4S12Cl R3c
const p13Li=[[-10,0],[-4,0],[-3.5,0.02],[-2.5,0.02],[-2,0],[3.5,0],[4.0,0.02],[5.0,0.05],[6.0,0.08],[7.0,0.1],[8,0.12],[9,0.12],[10,0.1],[11,0.1],[12,0.1],[12.5,0.1]];
const p13Al=[[-10,0],[-6.8,0],[-6.4,0.1],[-6.0,0.05],[-5.5,0.07],[-5.0,0.05],[-4.5,0.07],[-4.0,0.05],[-3.5,0.03],[-3.0,0.05],[-2.5,0.04],[-2.0,0.05],[-1.5,0.04],[-1.0,0.02],[0,0],[3.0,0],[3.5,0.02],[4.5,0.05],[5.5,0.1],[6.0,0.15],[6.5,0.12],[7,0.1],[8,0.1],[9,0.08],[10,0.07],[11,0.07],[12,0.05],[12.5,0.05]];
const p13B=[[-10,0],[-6.8,0],[-6.45,0.22],[-6.2,0.12],[-5.9,0.1],[-5.64,0.15],[-5.4,0.08],[-5.0,0.07],[-4.7,0.03],[-4.36,0.28],[-4.1,0.1],[-3.82,0.3],[-3.6,0.05],[-3.4,0.02],[-3.2,0.18],[-2.9,0.12],[-2.6,0.1],[-2.3,0.11],[-2.0,0.1],[-1.7,0.1],[-1.4,0.12],[-1.1,0.08],[-0.8,0.03],[-0.5,0.02],[0,0],[2.4,0],[2.7,0.15],[2.9,0.2],[3.1,0.15],[3.4,0.55],[3.6,0.28],[3.7,0.3],[3.9,0.1],[4.0,0.02],[4.2,0.12],[4.4,0.2],[4.7,0.12],[5.0,0.12],[5.5,0.18],[6.0,0.2],[6.4,0.17],[6.8,0.15],[7.2,0.12],[7.6,0.13],[8,0.13],[8.5,0.14],[9,0.15],[9.5,0.12],[10,0.1],[10.5,0.1],[11,0.1],[11.5,0.08],[12,0.08],[12.5,0.08]];
const p13X=[[-10,0],[-6.8,0],[-6.45,0.2],[-6.2,0.12],[-5.9,0.12],[-5.64,0.2],[-5.4,0.1],[-5.0,0.1],[-4.7,0.05],[-4.36,0.4],[-4.1,0.12],[-3.82,0.4],[-3.6,0.1],[-3.4,0.05],[-3.1,0.35],[-2.9,0.3],[-2.64,0.35],[-2.3,0.4],[-2.0,0.45],[-1.7,0.5],[-1.5,0.6],[-1.36,0.68],[-1.1,0.45],[-0.95,0.4],[-0.82,0.58],[-0.65,0.45],[-0.5,0.6],[-0.36,0.6],[-0.2,0.3],[0,0],[2.6,0],[3.0,0.02],[3.3,0.15],[3.5,0.25],[3.7,0.08],[3.9,0.03],[4.1,0.02],[4.3,0.12],[4.5,0.2],[4.8,0.15],[5.2,0.15],[5.6,0.18],[6.0,0.22],[6.4,0.18],[6.8,0.2],[7.2,0.15],[7.6,0.18],[8,0.2],[8.5,0.22],[9,0.22],[9.5,0.25],[10,0.22],[10.5,0.25],[11,0.22],[11.5,0.2],[12,0.2],[12.5,0.22]];
const p13Cl=[[-10,0],[-4.5,0],[-4.0,0.01],[-3.6,0.05],[-3.3,0.1],[-3.18,0.65],[-3.0,0.38],[-2.9,0.36],[-2.73,0.4],[-2.55,1.0],[-2.45,1.9],[-2.3,3],[-2.0,3],[-1.9,1.9],[-1.8,1.0],[-1.73,0.55],[-1.5,0.45],[-1.36,0.4],[-1.18,0.15],[-0.9,0.07],[-0.5,0.02],[0,0],[3.6,0],[4.0,0.02],[4.5,0.05],[5.0,0.12],[5.3,0.08],[5.6,0.15],[6.0,0.15],[6.4,0.15],[6.8,0.2],[7.2,0.18],[7.6,0.2],[8,0.2],[8.5,0.2],[9,0.2],[9.5,0.22],[10,0.25],[10.5,0.25],[11,0.22],[11.5,0.2],[12,0.18],[12.5,0.23]];

// Panel 14: Li4Al3B4S12Cl F-43c
const p14Li=[[-10,0],[-4,0],[-3.5,0.02],[-2.5,0.02],[-2,0],[3.5,0],[4,0.02],[5,0.06],[6,0.1],[7,0.12],[8,0.12],[9,0.15],[10,0.12],[11,0.1],[12,0.1],[12.5,0.1]];
const p14Al=[[-10,0],[-6.8,0],[-6.4,0.1],[-6.0,0.05],[-5.5,0.07],[-5.0,0.05],[-4.5,0.06],[-4.0,0.05],[-3.5,0.03],[-3.0,0.04],[-2.5,0.05],[-2.0,0.05],[-1.5,0.04],[-1.0,0.02],[0,0],[3.0,0],[3.5,0.02],[4.5,0.05],[5.5,0.1],[6.0,0.12],[7,0.12],[8,0.08],[9,0.07],[10,0.06],[11,0.06],[12,0.05],[12.5,0.05]];
const p14B=[[-10,0],[-6.8,0],[-6.45,0.25],[-6.2,0.12],[-5.9,0.1],[-5.64,0.15],[-5.4,0.07],[-5.0,0.07],[-4.7,0.02],[-4.45,0.28],[-4.2,0.1],[-3.82,0.25],[-3.6,0.03],[-3.3,0.02],[-3.0,0.1],[-2.7,0.08],[-2.3,0.1],[-2.0,0.12],[-1.7,0.1],[-1.4,0.1],[-1.0,0.05],[-0.5,0.02],[0,0],[2.5,0],[2.8,0.1],[3.0,0.25],[3.2,0.05],[3.4,0.3],[3.58,0.82],[3.75,0.2],[3.9,0.08],[4.1,0.05],[4.3,0.18],[4.5,0.2],[4.8,0.12],[5.2,0.13],[5.5,0.2],[6,0.2],[6.5,0.15],[7,0.15],[7.5,0.12],[8,0.08],[8.5,0.1],[9,0.15],[9.5,0.2],[10,0.12],[10.5,0.1],[11,0.1],[11.5,0.1],[12,0.1],[12.5,0.1]];
const p14X=[[-10,0],[-6.8,0],[-6.45,0.22],[-6.2,0.12],[-5.9,0.13],[-5.64,0.25],[-5.4,0.1],[-5.0,0.08],[-4.7,0.02],[-4.45,0.42],[-4.2,0.1],[-3.82,0.4],[-3.6,0.05],[-3.3,0.1],[-3.0,0.2],[-2.64,0.3],[-2.3,0.35],[-2.0,0.45],[-1.73,0.5],[-1.55,0.4],[-1.36,0.68],[-1.15,0.38],[-0.9,0.38],[-0.7,0.5],[-0.45,0.9],[-0.3,0.7],[-0.15,0.3],[0,0],[2.8,0],[3.2,0.05],[3.5,0.2],[3.7,0.22],[3.9,0.05],[4.2,0.1],[4.5,0.2],[4.8,0.15],[5.2,0.18],[5.5,0.25],[6,0.22],[6.5,0.2],[7,0.22],[7.5,0.2],[8,0.18],[8.5,0.22],[9,0.25],[9.5,0.28],[10,0.22],[10.5,0.25],[11,0.2],[11.5,0.2],[12,0.18],[12.5,0.2]];
const p14Cl=[[-10,0],[-4.5,0],[-3.9,0.01],[-3.5,0.02],[-3.2,0.1],[-3.0,0.18],[-2.8,0.12],[-2.6,0.3],[-2.45,1.0],[-2.36,1.9],[-2.1,3],[-1.9,3],[-1.8,1.9],[-1.7,1.0],[-1.55,0.38],[-1.4,0.2],[-1.2,0.1],[-1.0,0.05],[-0.7,0.02],[-0.3,0.01],[0,0],[3.6,0],[4.0,0.02],[4.3,0.05],[4.6,0.15],[5.0,0.1],[5.3,0.18],[5.6,0.2],[6.0,0.12],[6.5,0.15],[7.0,0.15],[7.5,0.12],[8,0.15],[8.5,0.18],[9,0.2],[9.5,0.15],[10,0.18],[10.5,0.12],[11,0.15],[11.5,0.15],[12,0.12],[12.5,0.2]];

// Panel 15: Li6Al3B4S13Cl R3c
const p15Li=[[-10,0],[-4,0],[-3.5,0.02],[-2.5,0.02],[-2,0],[3,0],[3.5,0.02],[4.5,0.04],[5.5,0.06],[6.5,0.08],[7.5,0.1],[8.5,0.1],[9.5,0.1],[10.5,0.1],[11.5,0.1],[12.5,0.1]];
const p15Al=[[-10,0],[-7.6,0],[-7.3,0.05],[-6.8,0.05],[-6.0,0.04],[-5.5,0.05],[-4.8,0.05],[-4.0,0.05],[-3.5,0.03],[-3.0,0.04],[-2.5,0.05],[-2.0,0.05],[-1.0,0.03],[0,0],[3.2,0],[3.6,0.05],[4.0,0.08],[4.5,0.12],[5.0,0.12],[5.5,0.15],[6.0,0.13],[6.5,0.1],[7,0.1],[8,0.08],[9,0.06],[10,0.07],[11,0.06],[12,0.05],[12.5,0.05]];
const p15B=[[-10,0],[-7.7,0],[-7.36,0.2],[-7.1,0.05],[-6.76,0.23],[-6.5,0.1],[-6.3,0.05],[-6.09,0.15],[-5.8,0.08],[-5.55,0.17],[-5.3,0.08],[-4.91,0.2],[-4.6,0.12],[-4.27,0.22],[-4.0,0.18],[-3.73,0.2],[-3.5,0.05],[-3.3,0.05],[-3.0,0.08],[-2.5,0.1],[-2.0,0.1],[-1.6,0.05],[-1.2,0.05],[-0.8,0.04],[-0.4,0.02],[0,0],[2.8,0],[3.0,0.02],[3.3,0.12],[3.6,0.2],[3.9,0.22],[4.2,0.2],[4.5,0.22],[4.8,0.25],[5.1,0.28],[5.4,0.3],[5.7,0.25],[6.0,0.3],[6.3,0.25],[6.6,0.2],[7.0,0.18],[7.5,0.15],[8,0.15],[8.5,0.15],[9,0.14],[9.5,0.12],[10,0.13],[10.5,0.12],[11,0.12],[11.5,0.12],[12,0.1],[12.5,0.1]];
const p15X=[[-10,0],[-7.6,0],[-7.36,0.1],[-7.0,0.2],[-6.8,0.15],[-6.5,0],[-6.2,0.15],[-5.9,0.2],[-5.6,0.08],[-5.3,0.22],[-5.0,0.1],[-4.6,0.15],[-4.3,0.35],[-4.0,0.25],[-3.7,0.25],[-3.5,0.1],[-3.3,0.25],[-3.0,0.3],[-2.7,0.35],[-2.4,0.42],[-2.1,0.42],[-1.9,0.4],[-1.6,0.5],[-1.3,0.55],[-1.1,0.68],[-0.9,0.5],[-0.7,0.38],[-0.5,0.28],[-0.3,0.32],[-0.1,0.1],[0,0],[2.8,0],[3.2,0.03],[3.6,0.1],[4.0,0.17],[4.3,0.18],[4.7,0.2],[5.0,0.22],[5.3,0.25],[5.7,0.22],[6.0,0.2],[6.5,0.2],[7.0,0.18],[7.5,0.2],[8,0.2],[8.5,0.2],[9,0.22],[9.5,0.22],[10,0.22],[10.5,0.2],[11,0.22],[11.5,0.22],[12,0.2],[12.5,0.22]];
const p15Cl=[[-10,0],[-4.5,0],[-3.8,0.02],[-3.5,0.05],[-3.3,0.5],[-3.2,1.2],[-3.05,2.2],[-2.8,3],[-2.55,2.5],[-2.45,1.9],[-2.3,1.0],[-2.1,0.4],[-1.9,0.2],[-1.7,0.1],[-1.4,0.05],[-1.1,0.05],[-0.9,0.08],[-0.7,0.03],[-0.4,0.01],[0,0],[3.2,0],[3.6,0.03],[4.0,0.08],[4.3,0.1],[4.6,0.1],[5.0,0.12],[5.5,0.1],[6,0.1],[6.5,0.12],[7,0.15],[7.5,0.15],[8,0.17],[8.5,0.2],[9,0.22],[9.5,0.22],[10,0.22],[10.5,0.23],[11,0.22],[11.5,0.22],[12,0.23],[12.5,0.25]];

// Panel 16: Li6Al3B4S13Cl Cc
const p16Li=[[-10,0],[-4,0],[-3.5,0.02],[-2.5,0.02],[-2,0],[3,0],[3.5,0.02],[4.5,0.05],[5.5,0.07],[6.5,0.08],[7.5,0.09],[8.5,0.1],[9.5,0.1],[10.5,0.1],[11.5,0.1],[12.5,0.1]];
const p16Al=[[-10,0],[-7.7,0],[-7.3,0.03],[-6.8,0.05],[-6.0,0.07],[-5.5,0.07],[-5.0,0.06],[-4.5,0.07],[-4.0,0.06],[-3.5,0.05],[-3.0,0.05],[-2.5,0.06],[-2.0,0.05],[-1.5,0.03],[-1.0,0.02],[0,0],[3.3,0],[3.6,0.05],[4.0,0.08],[4.5,0.1],[5.0,0.12],[5.5,0.12],[6.0,0.1],[6.5,0.08],[7,0.08],[8,0.07],[9,0.06],[10,0.06],[11,0.06],[12,0.05],[12.5,0.05]];
const p16B=[[-10,0],[-7.7,0],[-7.45,0.2],[-7.2,0.12],[-7.0,0.12],[-6.7,0.07],[-6.4,0.07],[-6.0,0.12],[-5.7,0.1],[-5.4,0.15],[-5.1,0.1],[-4.8,0.15],[-4.5,0.1],[-4.2,0.15],[-3.9,0.15],[-3.6,0.13],[-3.3,0.12],[-3.0,0.12],[-2.6,0.12],[-2.3,0.1],[-2.0,0.1],[-1.7,0.08],[-1.4,0.05],[-1.1,0.05],[-0.7,0.04],[-0.4,0.03],[0,0],[3.0,0],[3.3,0.05],[3.6,0.15],[3.9,0.2],[4.2,0.2],[4.5,0.18],[4.8,0.22],[5.1,0.25],[5.4,0.27],[5.7,0.28],[6.0,0.25],[6.3,0.2],[6.6,0.18],[7,0.2],[7.5,0.18],[8,0.15],[8.5,0.15],[9,0.14],[9.5,0.13],[10,0.12],[10.5,0.12],[11,0.11],[11.5,0.1],[12,0.1],[12.5,0.1]];
const p16X=[[-10,0],[-7.7,0],[-7.4,0.1],[-7.1,0.1],[-6.8,0.07],[-6.5,0.07],[-6.3,0.12],[-5.9,0.12],[-5.6,0.2],[-5.3,0.12],[-5.0,0.18],[-4.7,0.1],[-4.4,0.17],[-4.1,0.15],[-3.9,0.25],[-3.6,0.2],[-3.3,0.27],[-3.0,0.28],[-2.8,0.35],[-2.5,0.38],[-2.3,0.35],[-2.0,0.4],[-1.7,0.42],[-1.4,0.52],[-1.1,0.55],[-0.9,0.55],[-0.6,0.5],[-0.4,0.62],[-0.25,0.5],[-0.1,0.25],[0,0],[3.2,0],[3.5,0.08],[3.8,0.15],[4.2,0.18],[4.6,0.2],[5.0,0.2],[5.4,0.22],[5.8,0.25],[6.2,0.2],[6.6,0.18],[7,0.2],[7.5,0.2],[8,0.2],[8.5,0.21],[9,0.22],[9.5,0.22],[10,0.22],[10.5,0.22],[11,0.22],[11.5,0.22],[12,0.22],[12.5,0.2]];
const p16Cl=[[-10,0],[-4.5,0],[-4.0,0.02],[-3.6,0.05],[-3.3,0.2],[-3.1,0.6],[-3.0,1.3],[-2.8,2.2],[-2.0,2.2],[-1.82,1.3],[-1.64,0.73],[-1.45,0.3],[-1.36,0.19],[-1.1,0.12],[-0.9,0.15],[-0.64,0.15],[-0.4,0.05],[-0.1,0.01],[0,0],[3.3,0],[3.6,0.03],[4.0,0.07],[4.5,0.08],[5,0.08],[5.5,0.1],[6,0.1],[6.5,0.12],[7,0.15],[7.5,0.18],[8,0.18],[8.5,0.18],[9,0.18],[9.5,0.18],[10,0.2],[10.5,0.2],[11,0.2],[11.5,0.2],[12,0.2],[12.5,0.23]];

const panelSeries = [
 {Li:p1Li,B:p1B,X:p1X,Cl:p1Cl},{Li:p2Li,B:p2B,X:p2X,Cl:p2Cl},{Li:p3Li,B:p3B,X:p3X,Cl:p3Cl},{Li:p4Li,B:p4B,X:p4X,Cl:p4Cl},
 {Li:p5Li,B:p5B,X:p5X,Cl:p5Cl},{Li:p6Li,B:p6B,X:p6X,Cl:p6Cl},{Li:p7Li,B:p7B,X:p7X,Cl:p7Cl},{Li:p8Li,B:p8B,X:p8X,Cl:p8Cl},
 {Li:p9Li,Al:p9Al,B:p9B,X:p9X,Cl:p9Cl},{Li:p10Li,Al:p10Al,B:p10B,X:p10X,Cl:p10Cl},{Li:p11Li,Al:p11Al,B:p11B,X:p11X,Cl:p11Cl},{Li:p12Li,Al:p12Al,B:p12B,X:p12X,Cl:p12Cl},
 {Li:p13Li,Al:p13Al,B:p13B,X:p13X,Cl:p13Cl},{Li:p14Li,Al:p14Al,B:p14B,X:p14X,Cl:p14Cl},{Li:p15Li,Al:p15Al,B:p15B,X:p15X,Cl:p15Cl},{Li:p16Li,Al:p16Al,B:p16B,X:p16X,Cl:p16Cl}];

// ---------------- STYLE / LAYOUT ----------------
const W=1109, H=1452;
const colors = {Li:'#40E0D0', Al:'#BC8F8F', B:'#000000', O:'#FF0000', S:'#FFA500', Cl:'#00FF00'};
const colX = [[85,518],[671,1096]];
const groupTop = [10,758];
const panelH = 158.5;
const sgX = [304,298,308,315, 888,881,892,899, 349,340,352,359, 933,926,937,944];
const FONT = 'Liberation Serif, Times New Roman, serif';
const px = v => v/W, py = v => 1 - v/H;

const traces=[]; const layout = {
  width:W, height:H, margin:{l:0,r:0,t:0,b:0}, showlegend:false,
  paper_bgcolor:'#fff', plot_bgcolor:'#fff',
  font:{family:FONT, size:32, color:'#000', weight:'bold'},
  annotations:[]
};

panelSeries.forEach((ser,i)=>{
  const k=i+1, g=Math.floor(i/8), c=Math.floor((i%8)/4), r=i%4;
  const top=groupTop[g]+r*panelH, bot=top+panelH;
  const [x0,x1]=colX[c];
  const isCc = spaceGroups[i]==='Cc';
  const xa='x'+(k===1?'':k), ya='y'+(k===1?'':k);
  layout['xaxis'+(k===1?'':k)] = {
    domain:[px(x0),px(x1)], anchor:ya, range:[-10,12.5], autorange:false,
    tickvals:xTickVals, ticktext:xTickText, showticklabels:(r===3), ticklabelstandoff:-13,
    ticks:'inside', ticklen:10, tickwidth:2, tickcolor:'#000',
    showline:true, linewidth:2, linecolor:'#000', mirror:'ticks',
    showgrid:false, zeroline:false, fixedrange:true,
    tickfont:{family:FONT,size:32,color:'#000',weight:'bold'}
  };
  layout['yaxis'+(k===1?'':k)] = {
    domain:[py(bot),py(top)], anchor:xa, range:[0, isCc?1.3:1.9], autorange:false,
    tickvals: isCc?[0,0.5,1]:[0,0.5,1,1.5], ticktext: isCc?['0','0.5','1']:['0','0.5','1','1.5'],
    ticklabelstandoff:-4,
    ticks:'inside', ticklen:10, tickwidth:2, tickcolor:'#000',
    showline:true, linewidth:2, linecolor:'#000', mirror:'ticks',
    showgrid:false, zeroline:false, fixedrange:true,
    tickfont:{family:FONT,size:32,color:'#000',weight:'bold'}
  };
  const order=[['Li',ser.Li],['Al',ser.Al],['B',ser.B],[anions[i],ser.X],['Cl',ser.Cl]];
  order.forEach(([sp,arr])=>{
    if(!arr) return;
    const t={x:arr.map(d=>d[0]), y:arr.map(d=>d[1]), xaxis:xa, yaxis:ya, mode:'lines',
      hoverinfo:'skip', line:{color:colors[sp], width:3}};
    if(sp==='Li'){ t.fill='tozeroy'; t.fillcolor=colors.Li; t.line={color:'#ffffff', width:1.2}; }
    traces.push(t);
  });
  layout.annotations.push({xref:'paper',yref:'paper',x:px(c===0?24:609),y:py((top+bot)/2),text:yTitle,
    textangle:-90,showarrow:false,xanchor:'center',yanchor:'middle',font:{family:FONT,size:32,color:'#000',weight:'bold'}});
  layout.annotations.push({xref:'paper',yref:'paper',x:px(x0+14),y:py(top+37),text:formulas[i],
    showarrow:false,xanchor:'left',yanchor:'middle',font:{family:FONT,size:31,color:'#000',weight:'bold'}});
  layout.annotations.push({xref:'paper',yref:'paper',x:px(sgX[i]),y:py(top+37),text:spaceGroups[i],
    showarrow:false,xanchor:'left',yanchor:'middle',font:{family:FONT,size:31,color:'#000',weight:'bold'}});
  if(r===3){
    if(g===0){
      layout.annotations.push({xref:'paper',yref:'paper',x:px((x0+x1)/2),y:py(bot+45),text:xTitle,
        showarrow:false,xanchor:'center',yanchor:'middle',font:{family:FONT,size:32,color:'#000',weight:'bold'}});
    } else {
      layout.annotations.push({xref:'paper',yref:'paper',x:px((x0+x1)/2),y:0,text:xTitle,
        showarrow:false,xanchor:'center',yanchor:'bottom',font:{family:FONT,size:32,color:'#000',weight:'bold'}});
    }
  }
});

Plotly.newPlot('chart', traces, layout, {staticPlot:true, displayModeBar:false});
</script></body></html>
